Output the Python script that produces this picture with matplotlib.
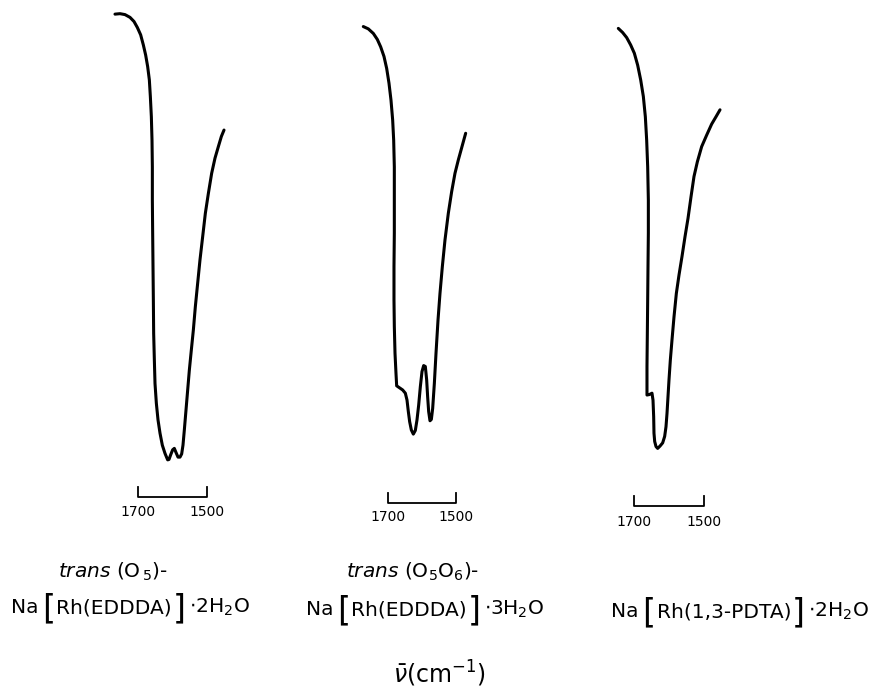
import numpy as np
import matplotlib
matplotlib.use("Agg")
from matplotlib import pyplot as plt

# 红外光谱（羰基区）：波数 cm-1 与透过率 %
nu_1 = [1766.7, 1752.2, 1737.7, 1723.2, 1711.6, 1701.9, 1692.3, 1684.5, 1677.8, 1672.0,
        1667.1, 1664.2, 1661.3, 1659.4, 1658.4, 1658.4, 1657.5, 1656.5, 1655.5, 1654.6,
        1652.6, 1650.7, 1646.8, 1642.0, 1636.2, 1629.5, 1621.7, 1614.0, 1610.1, 1605.3,
        1599.5, 1594.7, 1589.8, 1584.0, 1578.3, 1573.4, 1569.6, 1565.7, 1560.9, 1556.0,
        1551.2, 1545.4, 1539.6, 1533.8, 1528.0, 1520.3, 1512.6, 1504.8, 1496.1, 1486.5,
        1476.8, 1467.1, 1458.4, 1450.7]
T_1 = [99.1, 99.2, 99.0, 98.4, 97.5, 96.2, 94.6, 92.4, 90.2, 87.7,
       84.8, 81.2, 76.8, 71.7, 65.9, 58.7, 51.5, 44.2, 37.0, 29.7,
       23.9, 18.8, 14.5, 10.9, 8.0, 5.4, 3.6, 2.2, 2.3, 3.3,
       4.4, 4.7, 3.8, 2.8, 2.8, 3.5, 5.4, 8.7, 13.0, 17.4,
       21.7, 26.1, 30.4, 35.5, 39.9, 45.7, 50.7, 55.8, 60.1, 64.5,
       67.8, 70.3, 72.5, 73.9]

nu_2 = [1772.6, 1757.9, 1743.1, 1731.4, 1721.6, 1711.8, 1703.9, 1697.1, 1691.2, 1686.3,
        1683.3, 1681.4, 1681.4, 1681.4, 1682.4, 1682.4, 1681.4, 1679.4, 1676.5, 1674.5,
        1666.7, 1656.9, 1649.0, 1644.1, 1640.2, 1636.3, 1631.4, 1625.5, 1619.6, 1614.7,
        1609.8, 1604.9, 1600.0, 1595.1, 1590.2, 1586.3, 1583.4, 1580.4, 1576.5, 1572.5,
        1568.6, 1563.7, 1558.8, 1552.9, 1547.1, 1540.2, 1532.4, 1522.6, 1512.8, 1503.0,
        1493.2, 1482.4, 1471.6]
T_2 = [96.4, 95.9, 94.9, 93.6, 92.0, 89.9, 87.3, 84.1, 80.4, 76.1,
       71.7, 65.9, 58.7, 51.5, 44.2, 37.0, 31.2, 25.4, 21.0, 18.3,
       17.9, 17.4, 16.7, 15.2, 12.7, 10.5, 8.7, 7.8, 8.6, 10.9,
       14.1, 18.1, 21.4, 22.7, 22.5, 19.6, 15.9, 12.7, 10.7, 11.0,
       13.4, 18.8, 25.4, 32.6, 38.4, 44.2, 50.0, 55.8, 60.5, 64.5,
       67.4, 70.3, 73.2]

nu_3 = [1744.8, 1732.4, 1720.9, 1709.5, 1699.0, 1689.5, 1680.9, 1673.3, 1667.6, 1663.8,
        1660.9, 1659.0, 1659.0, 1660.0, 1660.9, 1661.9, 1662.9, 1662.9, 1656.2, 1648.6,
        1645.7, 1643.8, 1642.9, 1640.9, 1637.1, 1632.4, 1625.7, 1618.1, 1612.4, 1608.6,
        1605.7, 1602.9, 1600.0, 1596.2, 1591.4, 1585.7, 1579.0, 1571.4, 1562.9, 1554.3,
        1545.7, 1537.1, 1528.6, 1519.0, 1506.7, 1492.4, 1478.1, 1465.7, 1454.3]
T_3 = [96.0, 95.1, 94.0, 92.4, 90.6, 88.0, 84.8, 81.2, 76.8, 71.7,
       65.9, 58.7, 51.5, 44.2, 37.0, 29.7, 22.5, 16.3, 16.4, 16.7,
       15.2, 11.6, 8.0, 6.2, 5.1, 4.7, 5.2, 5.9, 7.3, 9.4,
       12.3, 15.9, 19.6, 23.9, 28.3, 33.3, 38.4, 42.4, 46.4, 50.7,
       54.7, 59.4, 63.8, 67.0, 70.3, 72.8, 75.2, 76.8, 78.3]

scale_ticks = [1700, 1500]
scale_labels = ["1700", "1500"]

# 化合物名称：第一行，第二行 (Na, 括号内, 括号后)
name_top = [r"$\it{trans}$ (O$_{\,5}$)-", r"$\it{trans}$ (O$_5$O$_6$)-", ""]
name_inner = ["Rh(EDDDA)", "Rh(EDDDA)", "Rh(1,3-PDTA)"]
name_tail = [r"$\cdot$2H$_2$O", r"$\cdot$3H$_2$O", r"$\cdot$2H$_2$O"]

W, H = 884, 694
plt.rcParams['mathtext.fontset'] = 'dejavusans'
fig = plt.figure(figsize=(W / 100, H / 100), dpi=100)

# y 像素 = 470 - 4.6*T
def panel(anchor_px, px_per_cm):
    left = anchor_px - 60
    width = 180
    ax = fig.add_axes([left / W, 1 - 540 / H, width / W, 540 / H])
    ax.set_xlim(1700 + (anchor_px - left) / px_per_cm,
                1700 - (left + width - anchor_px) / px_per_cm)
    ax.set_ylim(-70 / 4.6, 470 / 4.6)
    ax.axis('off')
    return ax

spectra = [(nu_1, T_1), (nu_2, T_2), (nu_3, T_3)]
anchors = [138, 388, 634]
scales = [0.345, 0.34, 0.35]
bar_y = [497, 503, 506]
lab_y = [512, 517, 522]

for (nu, T), a, s, by, ly in zip(spectra, anchors, scales, bar_y, lab_y):
    ax = panel(a, s)
    ax.plot(nu, T, color='black', lw=2.2, solid_joinstyle='round', solid_capstyle='round')
    t_bar = (470 - by) / 4.6
    t_top = (470 - by + 10) / 4.6
    ax.plot([scale_ticks[0], scale_ticks[0], scale_ticks[1], scale_ticks[1]],
            [t_top, t_bar, t_bar, t_top], color='black', lw=1.3)
    t_lab = (470 - ly) / 4.6
    for tk, lb in zip(scale_ticks, scale_labels):
        ax.text(tk, t_lab, lb, ha='center', va='center', fontsize=10)

renderer = fig.canvas.get_renderer()

def text_row(cx, base_y, pieces):
    # pieces: (text, fontsize, dy, gap_after)
    arts = []
    for txt, fs, dy, gap in pieces:
        t = fig.text(0, 1 - (base_y + dy) / H, txt, fontsize=fs, ha='left', va='baseline')
        arts.append((t, t.get_window_extent(renderer).width, gap))
    total = sum(w + g for _, w, g in arts) - arts[-1][2]
    x = cx - total / 2
    for t, w, g in arts:
        t.set_x(x / W)
        x += w + g

fs = 14.5
top_cx = [113, 413, 0]
bot_cx = [130, 425, 740]
top_base = [578, 578, 0]
bot_base = [613, 615, 617]
for i in range(3):
    if name_top[i]:
        fig.text(top_cx[i] / W, 1 - top_base[i] / H, name_top[i], fontsize=fs,
                 ha='center', va='baseline')
    text_row(bot_cx[i], bot_base[i], [
        ("Na", fs, 0, 4),
        ("[", 24, 5, 1),
        (name_inner[i], fs, 0, 1),
        ("]", 24, 5, 3),
        (name_tail[i], fs, 0, 0),
    ])

fig.text(439 / W, 1 - 674 / H, r"$\bar{\nu}$(cm$^{-1}$)", ha='center', va='center', fontsize=17)

fig.savefig("out.png", dpi=100)
